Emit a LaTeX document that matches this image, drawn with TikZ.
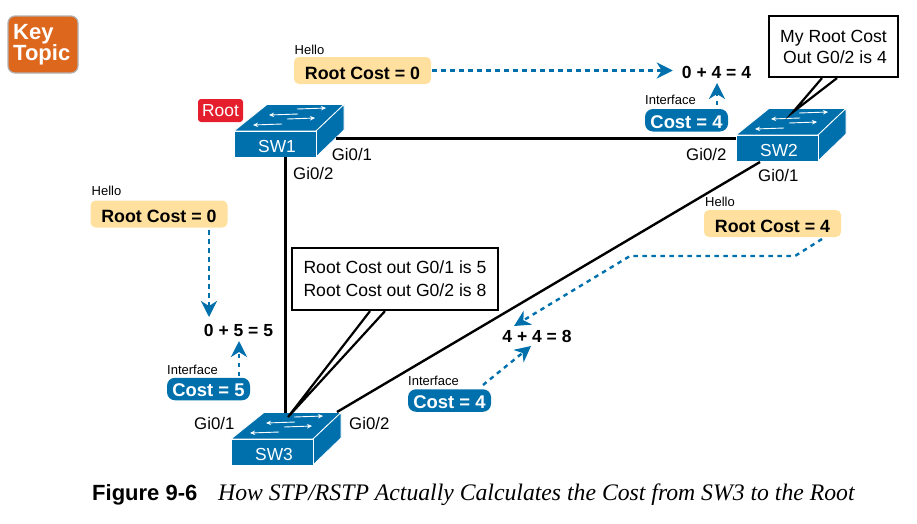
\documentclass[tikz,border=0pt]{standalone}
\usepackage{fontspec}
\setmainfont{Liberation Sans}
\newfontfamily\capserif{Liberation Serif}
\usetikzlibrary{arrows.meta,calc}
\definecolor{swblue}{RGB}{0,112,173}
\definecolor{helloyellow}{RGB}{255,224,158}
\definecolor{keyorange}{RGB}{221,103,29}
\definecolor{rootred}{RGB}{228,30,44}
\newcommand\fsz[1]{\fontsize{#1}{#1}\selectfont}
\tikzset{
  x=1pt,y=-1pt,
  link/.style={line width=2.4pt,black},
  hellobox/.style={fill=helloyellow,rounded corners=5pt,minimum width=137pt,inner xsep=0pt,inner ysep=2pt,text height=20pt,text depth=3pt,font=\fsz{17.8}\bfseries,text=black},
  costbox/.style={fill=swblue,rounded corners=8pt,minimum width=83pt,inner xsep=0pt,inner ysep=1pt,text height=18pt,text depth=2.5pt,font=\fsz{18.4}\bfseries,text=white},
  smalltxt/.style={anchor=base west,inner sep=0pt,font=\fsz{13}},
  porttxt/.style={anchor=base west,inner sep=0pt,font=\fsz{16.8}},
  sumtxt/.style={anchor=base,inner sep=0pt,font=\fsz{17.5}\bfseries},
  flow/.style={swblue,line width=2.4pt,dash pattern=on 4.5pt off 4.5pt,-{Stealth[length=16pt,width=16pt,inset=5pt]}},
  callbox/.style={draw=black,fill=white,line width=2.2pt,inner sep=0pt,font=\fsz{17.6}},
  swfront/.style={fill=swblue,draw=white,line width=.8pt,minimum width=82pt,inner xsep=0pt,inner ysep=1.7pt,text height=20pt,text depth=2.6pt,font=\fsz{17.4},text=white},
  swface/.style={fill=swblue,draw=white,line width=.8pt,line join=round},
  swarrow/.style={white,line width=.9pt,-{Stealth[length=5pt,width=4.5pt]}}
}
\newcommand\switchbox[4]{%
  \begin{scope}[shift={(#2,#3)}]
    \path[swface] (234,131) -- (267,104.5) -- (344,104.5) -- (316,131) -- cycle;
    \path[swface] (316,131) -- (344,104.5) -- (344,130) -- (316,157) -- cycle;
    \node[swfront] (#1) at (275,144) {\hspace*{4pt}#4};
    \draw[swarrow] (297,109) -- (326,108);
    \draw[swarrow] (298,114) -- (269,115);
    \draw[swarrow] (287,119) -- (315,118);
    \draw[swarrow] (282,124) -- (253,125);
  \end{scope}}
\begin{document}
\begin{tikzpicture}
\useasboundingbox (0,0) rectangle (917,523);

% Key Topic badge
\node[fill=keyorange,draw=black!30,line width=1.2pt,rounded corners=7pt,minimum width=70pt,minimum height=57pt,inner sep=0pt] (key) at (43,44.5) {};
\node[anchor=west,inner sep=0pt,align=left,text=white,font=\fontsize{22}{21}\selectfont\bfseries] (keytxt) at (13,44.5) {Key\\Topic};

% switches
\switchbox{sw1}{0}{0}{SW1}
\switchbox{sw2}{502}{4}{SW2}
\switchbox{sw3}{-3}{308}{SW3}

% root tag
\node[fill=rootred,rounded corners=3pt,minimum width=45pt,minimum height=23pt,inner sep=0pt,text=white,font=\fsz{17.4}] (root) at (220.5,110.5) {Root};

% links
\coordinate (p1e) at (336,138.5);
\coordinate (p2w) at (736,138.5);
\coordinate (p1s) at (285.5,157);
\coordinate (p3n) at (285.5,413);
\coordinate (p2s) at (760,162);
\coordinate (p3e) at (337,412);
\draw[link] (p1e) -- (p2w);
\draw[link] (p1s) -- (p3n);
\draw[link] (p2s) -- (p3e);

% port labels
\node[porttxt] (l1) at (331.7,160) {Gi0/1};
\node[porttxt] (l2) at (293,179) {Gi0/2};
\node[porttxt] (l3) at (686,160) {Gi0/2};
\node[porttxt] (l4) at (758,181) {Gi0/1};
\node[porttxt] (l5) at (194,429) {Gi0/1};
\node[porttxt] (l6) at (349,429) {Gi0/2};

% callouts
\node[callbox,minimum width=129pt,minimum height=61pt,align=right,font=\fontsize{17.6}{21}\selectfont] (c2) at (833.5,46.5) {My Root Cost\\Out G0/2 is 4};
\coordinate (t2) at (793,112);
\fill[white] ($(c2.south)+(-11.5,0)$) -- (t2) -- ($(c2.south)+(3.5,0)$) -- cycle;
\draw[line width=2.2pt] ($(c2.south)+(-11.5,0)$) -- (t2) -- ($(c2.south)+(3.5,0)$);

\node[callbox,minimum width=206pt,minimum height=62pt,align=left,font=\fontsize{17.6}{23}\selectfont] (c3) at (395,279) {Root Cost out G0/1 is 5\\Root Cost out G0/2 is 8};
\coordinate (t3) at (288,417);
\fill[white] ($(c3.south)+(-25,0)$) -- (t3) -- ($(c3.south)+(-10,0)$) -- cycle;
\draw[line width=2.2pt] ($(c3.south)+(-25,0)$) -- (t3) -- ($(c3.south)+(-10,0)$);

% hello boxes
\node[hellobox] (y1) at (362.5,70.5) {Root Cost = 0};
\node[hellobox] (y2) at (159,214) {Root Cost = 0};
\node[hellobox] (y3) at (772.5,223.5) {Root Cost = 4};
\node[smalltxt] (h1) at (294.5,54) {Hello};
\node[smalltxt] (h2) at (91.5,195) {Hello};
\node[smalltxt] (h3) at (705,206) {Hello};

% cost boxes
\node[costbox] (b1) at (686.5,120.25) {Cost = 4};
\node[costbox] (b2) at (208.5,389) {Cost = 5};
\node[costbox] (b3) at (449.5,400.5) {Cost = 4};
\node[smalltxt] (i1) at (645,104) {Interface};
\node[smalltxt] (i2) at (167,374) {Interface};
\node[smalltxt] (i3) at (408,385) {Interface};

% sums
\node[sumtxt] (s1) at (716.5,78) {0 + 4 = 4};
\node[sumtxt] (s2) at (238.5,336.7) {0 + 5 = 5};
\node[sumtxt] (s3) at (537,342) {4 + 4 = 8};

% flows
\coordinate (f1a) at (717,105);
\coordinate (f1b) at (717,83);
\coordinate (f2a) at (209,230);
\coordinate (f2b) at (209,317);
\coordinate (f3a) at (239,376);
\coordinate (f3b) at (239,341);
\coordinate (f4a) at (483,385);
\coordinate (f4b) at (531,346);
\coordinate (f5a) at (822,239);
\coordinate (f5c) at (795,256);
\coordinate (f5d) at (630,256);
\coordinate (f5b) at (514,326);
\draw[flow,shorten <=1pt,shorten >=9pt] (y1.east) -- (s1.west |- y1.east);
\draw[flow] (f1a) -- (f1b);
\draw[flow] (f2a) -- (f2b);
\draw[flow] (f3a) -- (f3b);
\draw[flow] (f4a) -- (f4b);
\draw[flow] (f5a) -- (f5c) -- (f5d) -- (f5b);

% caption
\node[anchor=base west,inner sep=0pt,font=\fsz{22}\bfseries] (figno) at (92,500) {Figure 9-6};
\node[anchor=base west,inner sep=0pt,font=\capserif\fsz{23.7}\itshape] (figcap) at (218,500) {How STP/RSTP Actually Calculates the Cost from SW3 to the Root};
\end{tikzpicture}
\end{document}
